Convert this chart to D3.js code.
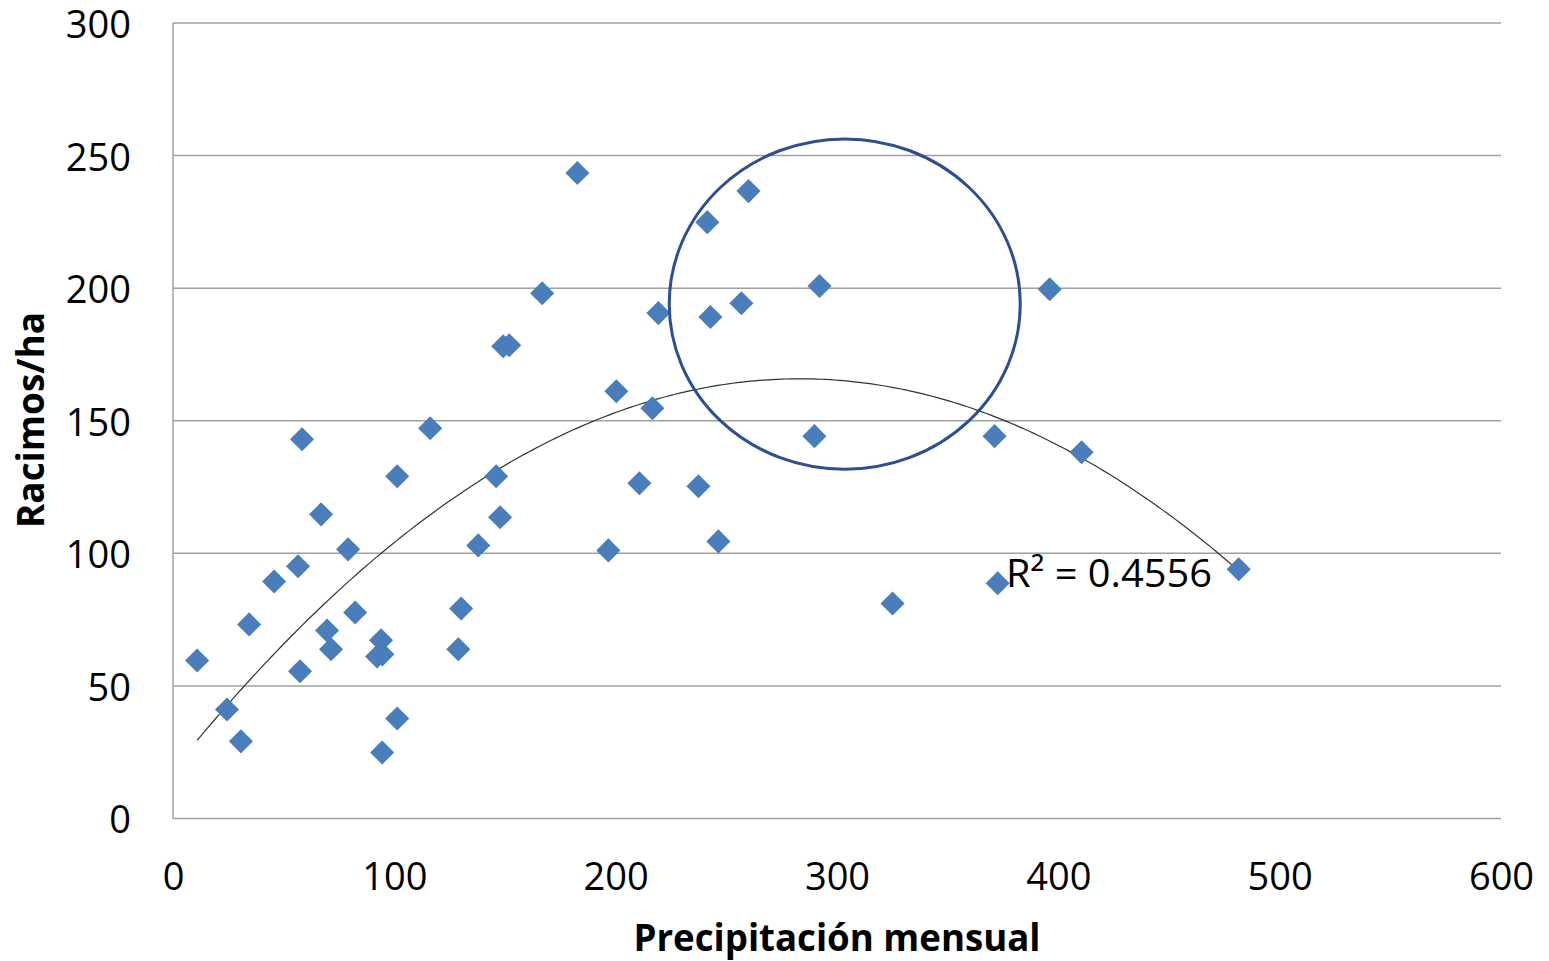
<!DOCTYPE html>
<html>
<head>
<meta charset="utf-8">
<script src="https://cdnjs.cloudflare.com/ajax/libs/d3/7.8.5/d3.min.js"></script>
<style>
  body { margin: 0; background: #fff; }
  text { font-family: "Open Sans", sans-serif; fill: #000; }
</style>
</head>
<body>
<div id="chart"></div>
<script>
// data
var precip = [10.9, 24.4, 30.7, 34.4, 45.7, 56.5, 58.3, 57.4, 66.9, 69.6,
              71.4, 79.1, 82.3, 92.2, 94.0, 94.6, 94.5, 101.3, 101.3, 116.2,
              128.9, 130.2, 137.9, 146.0, 147.8, 149.2, 151.9, 166.8, 182.7, 196.7,
              200.3, 210.7, 216.6, 219.3, 237.4, 241.4, 242.8, 246.4, 256.8, 260.0,
              289.8, 292.1, 325.1, 371.2, 372.6, 396.1, 410.5, 481.5];
var racimos = [59.6, 41.1, 29.1, 73.2, 89.4, 95.1, 143.0, 55.5, 114.7, 70.9,
               63.8, 101.5, 77.7, 61.1, 67.2, 61.9, 24.9, 129.1, 37.7, 147.2,
               63.8, 79.2, 103.0, 129.1, 113.6, 178.1, 178.5, 198.1, 243.4, 101.1,
               161.1, 126.4, 154.7, 190.6, 125.3, 224.9, 189.1, 104.5, 194.3, 236.6,
               144.2, 200.8, 81.1, 144.2, 88.7, 199.6, 138.1, 94.0];
var xTicks = [0, 100, 200, 300, 400, 500, 600];
var yTicks = [0, 50, 100, 150, 200, 250, 300];
// polynomial trend (order 2): a x^2 + b x + c
var trendCoef = [-0.00184, 1.042, 18.3];
var r2Label = "R² = 0.4556";
// highlighted zone (data units): center x, center y, radius x, radius y
var zone = [303.5, 194, 79.3, 62.3];

var width = 1549, height = 961;
var margin = { top: 23, right: 48, bottom: 142.5, left: 173 };

var svg = d3.select("#chart")
    .append("svg")
    .attr("width", width)
    .attr("height", height);

var x = d3.scaleLinear().domain([0, 600]).range([margin.left, width - margin.right]);
var y = d3.scaleLinear().domain([0, 300]).range([height - margin.bottom, margin.top]);

// gridlines
svg.append("g")
    .selectAll("line")
    .data(yTicks)
    .enter()
    .append("line")
    .attr("x1", x(0))
    .attr("x2", x(600))
    .attr("y1", function (d) { return y(d); })
    .attr("y2", function (d) { return y(d); })
    .attr("stroke", "#a0a0a0")
    .attr("stroke-width", 1.5);

// left axis line
svg.append("line")
    .attr("x1", x(0)).attr("x2", x(0))
    .attr("y1", y(0)).attr("y2", y(300))
    .attr("stroke", "#a0a0a0")
    .attr("stroke-width", 1.5);

// y axis labels
var yAxis = d3.axisLeft(y).tickValues(yTicks).tickSize(0).tickPadding(42);
svg.append("g")
    .attr("transform", "translate(" + x(0) + ",0)")
    .call(yAxis)
    .call(function (g) { g.select(".domain").remove(); })
    .selectAll("text")
    .style("font-size", "38px")
    .style("font-family", "'Open Sans', sans-serif")
    .attr("dy", "0.38em");

// x axis labels
var xAxis = d3.axisBottom(x).tickValues(xTicks).tickSize(0).tickPadding(64);
svg.append("g")
    .attr("transform", "translate(0," + y(0) + ")")
    .call(xAxis)
    .call(function (g) { g.select(".domain").remove(); })
    .selectAll("text")
    .style("font-size", "38px")
    .style("font-family", "'Open Sans', sans-serif")
    .attr("dy", "0.2em");

// trend line
var ext = d3.extent(precip);
var trendX = d3.range(ext[0], ext[1], 2).concat([ext[1]]);
var line = d3.line()
    .x(function (d) { return x(d); })
    .y(function (d) { return y(trendCoef[0] * d * d + trendCoef[1] * d + trendCoef[2]); });
svg.append("path")
    .datum(trendX)
    .attr("d", line)
    .attr("fill", "none")
    .attr("stroke", "#333")
    .attr("stroke-width", 1.2);

// points
var diamond = d3.symbol().type(d3.symbolSquare).size(290);
svg.append("g")
    .selectAll("path")
    .data(precip)
    .enter()
    .append("path")
    .attr("d", diamond)
    .attr("transform", function (d, i) {
        return "translate(" + x(d) + "," + y(racimos[i]) + ") rotate(45)";
    })
    .attr("fill", "#4a7ebb");

// ellipse
svg.append("ellipse")
    .attr("cx", x(zone[0]))
    .attr("cy", y(zone[1]))
    .attr("rx", x(zone[2]) - x(0))
    .attr("ry", y(0) - y(zone[3]))
    .attr("fill", "none")
    .attr("stroke", "#2c4f93")
    .attr("stroke-width", 3);

// R2 label
svg.append("text")
    .attr("x", 1006)
    .attr("y", 587)
    .attr("textLength", 206)
    .attr("lengthAdjust", "spacingAndGlyphs")
    .style("font-size", "39px")
    .text(r2Label);

// axis titles
svg.append("text")
    .attr("x", 837)
    .attr("y", 951)
    .attr("text-anchor", "middle")
    .attr("textLength", 407)
    .attr("lengthAdjust", "spacingAndGlyphs")
    .style("font-size", "38px")
    .style("font-weight", "bold")
    .text("Precipitación mensual");

svg.append("text")
    .attr("transform", "translate(44,420) rotate(-90)")
    .attr("text-anchor", "middle")
    .attr("textLength", 216)
    .attr("lengthAdjust", "spacingAndGlyphs")
    .style("font-size", "38px")
    .style("font-weight", "bold")
    .text("Racimos/ha");
</script>
</body>
</html>
